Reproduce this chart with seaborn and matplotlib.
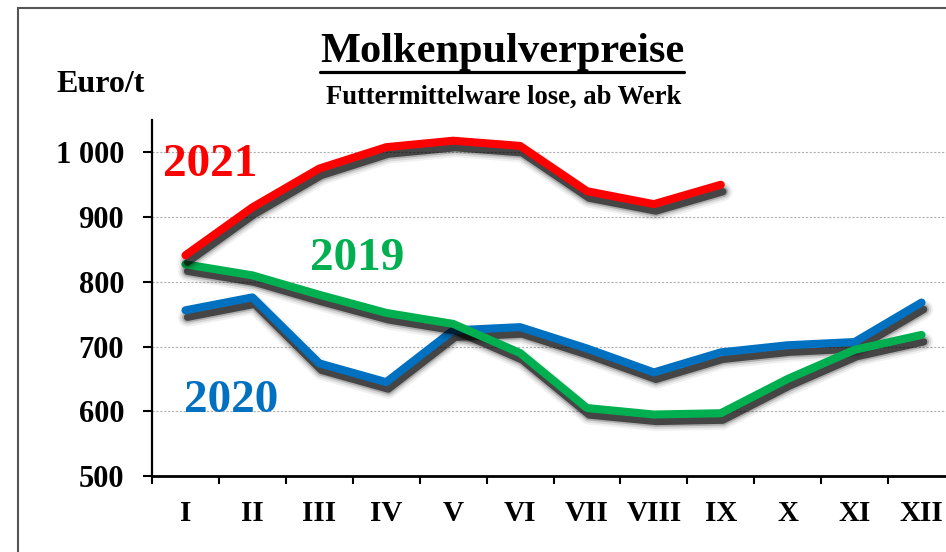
import matplotlib
matplotlib.use("Agg")
import matplotlib.pyplot as plt
import matplotlib.patheffects as pe
from matplotlib.lines import Line2D
from matplotlib.patches import Rectangle
import numpy as np
import pandas as pd
import seaborn as sns

# ---- data ----
months = ["I", "II", "III", "IV", "V", "VI", "VII", "VIII", "IX", "X", "XI", "XII"]
v2019 = [827, 810, 780, 752, 735, 690, 605, 595, 597, 650, 695, 718]
v2020 = [756, 776, 674, 645, 725, 730, 697, 660, 691, 702, 707, 768]
v2021 = [841, 915, 975, 1008, 1018, 1010, 940, 920, 950]
years = ["2020", "2019", "2021"]
colors = {"2019": "#00B050", "2020": "#0070C0", "2021": "#FF0000"}

rows = []
for yr, vals in (("2020", v2020), ("2019", v2019), ("2021", v2021)):
    for i, v in enumerate(vals):
        rows.append({"x": i + 0.5, "value": v, "year": yr})
df = pd.DataFrame(rows)

sns.set_style("white")
plt.rcParams["font.family"] = ["Liberation Serif", "DejaVu Serif"]
plt.rcParams["font.weight"] = "bold"
plt.rcParams["text.color"] = "black"
plt.rcParams["axes.labelcolor"] = "black"
plt.rcParams["xtick.color"] = "black"
plt.rcParams["ytick.color"] = "black"

W, H = 946, 552
fig = plt.figure(figsize=(W / 100, H / 100), dpi=100)
ax = fig.add_axes([152 / W, 1 - 476 / H, 803 / W, 356 / H])

lw = 5.8
sns.lineplot(data=df, x="x", y="value", hue="year", hue_order=years,
             palette=colors, linewidth=lw, legend=False, ax=ax)

off = (1.5, -5)
effects = [
    pe.SimpleLineShadow(offset=off, shadow_color="black", alpha=0.06, linewidth=lw + 8),
    pe.SimpleLineShadow(offset=off, shadow_color="black", alpha=0.10, linewidth=lw + 5),
    pe.SimpleLineShadow(offset=off, shadow_color="black", alpha=0.20, linewidth=lw + 2),
    pe.SimpleLineShadow(offset=off, shadow_color="black", alpha=0.60, linewidth=lw - 0.5),
    pe.Normal(),
]
for ln in ax.lines:
    ln.set_solid_capstyle("round")
    ln.set_path_effects(effects)

ax.set_xlim(0, 12)
ax.set_ylim(500, 1050)
ax.set_xlabel("")
ax.set_ylabel("")

ax.set_yticks([500, 600, 700, 800, 900, 1000])
ax.set_yticklabels(["500", "600", "700", "800", "900", "1 000"])
ax.set_xticks(np.arange(0, 13))
ax.set_xticklabels([])
ax.set_xticks(np.arange(12) + 0.5, minor=True)
ax.set_xticklabels(months, minor=True)

ax.tick_params(axis="y", which="major", direction="out", length=6.5, width=1.5,
               pad=13.5, labelsize=22, left=True, color="black", labelcolor="black")
ax.tick_params(axis="x", which="major", direction="out", length=6, width=1.5,
               bottom=True, color="black")
ax.tick_params(axis="x", which="minor", length=0, pad=17, labelsize=21, labelcolor="black")
for lab in ax.get_yticklabels() + ax.get_xticklabels(minor=True):
    lab.set_fontweight("bold")

for g in [600, 700, 800, 900, 1000]:
    ax.axhline(g, color="#b0b0b0", lw=0.8, ls=(0, (2, 1.5)), zorder=0)

for s in ["top", "right"]:
    ax.spines[s].set_visible(False)
ax.spines["left"].set_linewidth(1.6)
ax.spines["bottom"].set_linewidth(2.0)
ax.spines["left"].set_color("black")
ax.spines["bottom"].set_color("black")

# year labels
ax.text(0.867, 964, "2021", color=colors["2021"], fontsize=34, fontweight="bold",
        ha="center", va="baseline")
ax.text(3.06, 819, "2019", color=colors["2019"], fontsize=34, fontweight="bold",
        ha="center", va="baseline")
ax.text(1.18, 599, "2020", color=colors["2020"], fontsize=34, fontweight="bold",
        ha="center", va="baseline")

# titles
title = fig.text(502 / W, 1 - 62 / H, "Molkenpulverpreise", fontsize=30.5,
                 fontweight="bold", ha="center", va="baseline", color="black")
fig.text(504 / W, 1 - 104 / H, "Futtermittelware lose, ab Werk", fontsize=19.2,
         fontweight="bold", ha="center", va="baseline", color="black")
fig.text(56 / W, 1 - 92 / H, "Euro/t", fontsize=23, fontweight="bold",
         ha="left", va="baseline", color="black")

# frame
fig.patches.append(Rectangle((18 / W, -0.2), 2.0, 1.2 - 8 / H, transform=fig.transFigure,
                             fill=False, edgecolor="#555555", lw=1.5))

# underline for title
fig.canvas.draw()
bb = title.get_window_extent(fig.canvas.get_renderer())
yline = 1 - 72 / H
fig.add_artist(Line2D([bb.x0 / W, bb.x1 / W], [yline, yline], transform=fig.transFigure,
                      color="black", lw=2.3))

fig.savefig("out.png", dpi=100)
